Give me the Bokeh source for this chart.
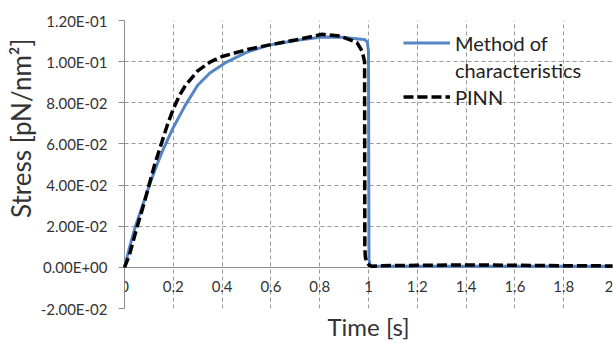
from bokeh.plotting import figure
from bokeh.models import (LinearAxis, FixedTicker, CustomJSTickFormatter, Legend,
                          LegendItem, Title, Range1d)
from bokeh.embed import file_html
from bokeh.resources import INLINE

# ---- data ----
t_moc = [0.0, 0.02, 0.045, 0.075, 0.104, 0.13, 0.161, 0.2, 0.25, 0.3, 0.35, 0.414,
         0.5, 0.585, 0.7, 0.81, 0.9, 0.94, 0.97, 0.985, 0.995, 1.0, 1.001, 1.002,
         1.006, 1.015, 1.2, 1.4, 1.6, 1.8, 2.0]
s_moc = [0.0, 0.0095, 0.020, 0.0305, 0.0405, 0.049, 0.058, 0.068, 0.079, 0.0885,
         0.0945, 0.0995, 0.1045, 0.1078, 0.1103, 0.1120, 0.1118, 0.1113, 0.1109,
         0.1107, 0.1095, 0.105, 0.05, 0.004, 0.001, 0.0005, 0.0005, 0.0005, 0.0005,
         0.0005, 0.0005]

t_pinn = [0.0, 0.02, 0.05, 0.08, 0.104, 0.125, 0.148, 0.175, 0.2, 0.225, 0.25, 0.3,
          0.35, 0.4, 0.5, 0.6, 0.7, 0.81, 0.885, 0.953, 0.974, 0.984, 0.9845, 0.985,
          0.987, 0.993, 1.003, 1.015, 1.05, 1.2, 1.4, 1.6, 1.8, 2.0]
s_pinn = [0.0, 0.006, 0.019, 0.031, 0.0415, 0.0505, 0.059, 0.069, 0.077, 0.0835,
          0.0885, 0.0955, 0.0998, 0.1025, 0.1058, 0.1083, 0.1105, 0.1133, 0.1124,
          0.1093, 0.105, 0.100, 0.05, 0.01, 0.005, 0.0025, 0.001, 0.0005, 0.0008,
          0.001, 0.0012, 0.001, 0.0008, 0.0007]

x_ticks = [0, 0.2, 0.4, 0.6, 0.8, 1.0, 1.2, 1.4, 1.6, 1.8, 2.0]
y_ticks = [-0.02, 0.0, 0.02, 0.04, 0.06, 0.08, 0.10, 0.12]

legend_lines = ["Method of", "characteristics", "PINN"]
x_title = "Time [s]"
y_title = "Stress [pN/nm\u00b2]"

FONT = "Lato"
GRID = "#999999"
AXIS = "#8c8c8c"
TXT = "#333333"

p = figure(width=613, height=343, output_backend="svg", toolbar_location=None,
           x_range=Range1d(0, 2), y_range=Range1d(-0.02, 0.12),
           x_axis_location=None, y_axis_location=None,
           min_border_left=124, min_border_right=1, min_border_top=20,
           min_border_bottom=32)
p.outline_line_color = None
p.background_fill_color = "white"

# y axis
yax = LinearAxis(ticker=FixedTicker(ticks=y_ticks))
yax.formatter = CustomJSTickFormatter(code="""
    var s = tick.toExponential(2).split('e');
    var e = parseInt(s[1]);
    var sign = e < 0 ? '-' : '+';
    var ae = Math.abs(e);
    return s[0] + 'E' + sign + (ae < 10 ? '0' : '') + ae;
""")
yax.axis_line_color = AXIS
yax.major_tick_line_color = AXIS
yax.major_tick_out = 6
yax.major_tick_in = 0
yax.minor_tick_line_color = None
yax.major_label_standoff = 11
yax.major_label_text_font = FONT
yax.major_label_text_font_size = "15px"
yax.major_label_text_color = TXT
p.add_layout(yax, "left")

ytitle = Title(text=y_title, align="right", offset=18, text_font=FONT,
               text_font_size="26px", text_font_style="normal", text_color=TXT,
               standoff=2)
p.add_layout(ytitle, "left")

# x axis drawn at y = 0
xax = LinearAxis(ticker=FixedTicker(ticks=x_ticks), fixed_location=0)
xax.formatter = CustomJSTickFormatter(code="return String(Math.round(tick*10)/10);")
xax.axis_line_color = AXIS
xax.major_tick_line_color = None
xax.minor_tick_line_color = None
xax.major_label_standoff = 8
xax.major_label_text_font = FONT
xax.major_label_text_font_size = "15px"
xax.major_label_text_color = TXT
p.add_layout(xax, "below")

# axis carrying only the x title
tax = LinearAxis(ticker=FixedTicker(ticks=[]), axis_label=x_title)
tax.axis_line_color = None
tax.major_tick_line_color = None
tax.minor_tick_line_color = None
tax.major_label_text_font_size = "0px"
tax.axis_label_standoff = 3
tax.axis_label_text_font = FONT
tax.axis_label_text_font_style = "normal"
tax.axis_label_text_font_size = "24px"
tax.axis_label_text_color = TXT
p.add_layout(tax, "below")

# grids
p.xgrid.ticker = FixedTicker(ticks=x_ticks)
p.ygrid.ticker = FixedTicker(ticks=y_ticks)
for g in (p.xgrid, p.ygrid):
    g.grid_line_color = GRID
    g.grid_line_dash = "4 3"
    g.grid_line_width = 1

r1 = p.line(t_moc, s_moc, line_color="#5585C5", line_width=3, level="overlay")
r2 = p.line(t_pinn, s_pinn, line_color="black", line_width=3.5, line_dash="10 4",
            level="overlay")

legend = Legend(items=[LegendItem(label=legend_lines[0], renderers=[r1]),
                       LegendItem(label=legend_lines[1], renderers=[]),
                       LegendItem(label=legend_lines[2], renderers=[r2])],
                location=(279, 198), background_fill_alpha=0, border_line_color=None,
                glyph_width=47, glyph_height=27, label_height=27, label_standoff=5,
                spacing=0, padding=0, margin=0, label_text_font=FONT,
                label_text_font_size="20px", label_text_color="#222222")
p.add_layout(legend, "center")

open("out.html", "w").write(file_html(p, INLINE))
